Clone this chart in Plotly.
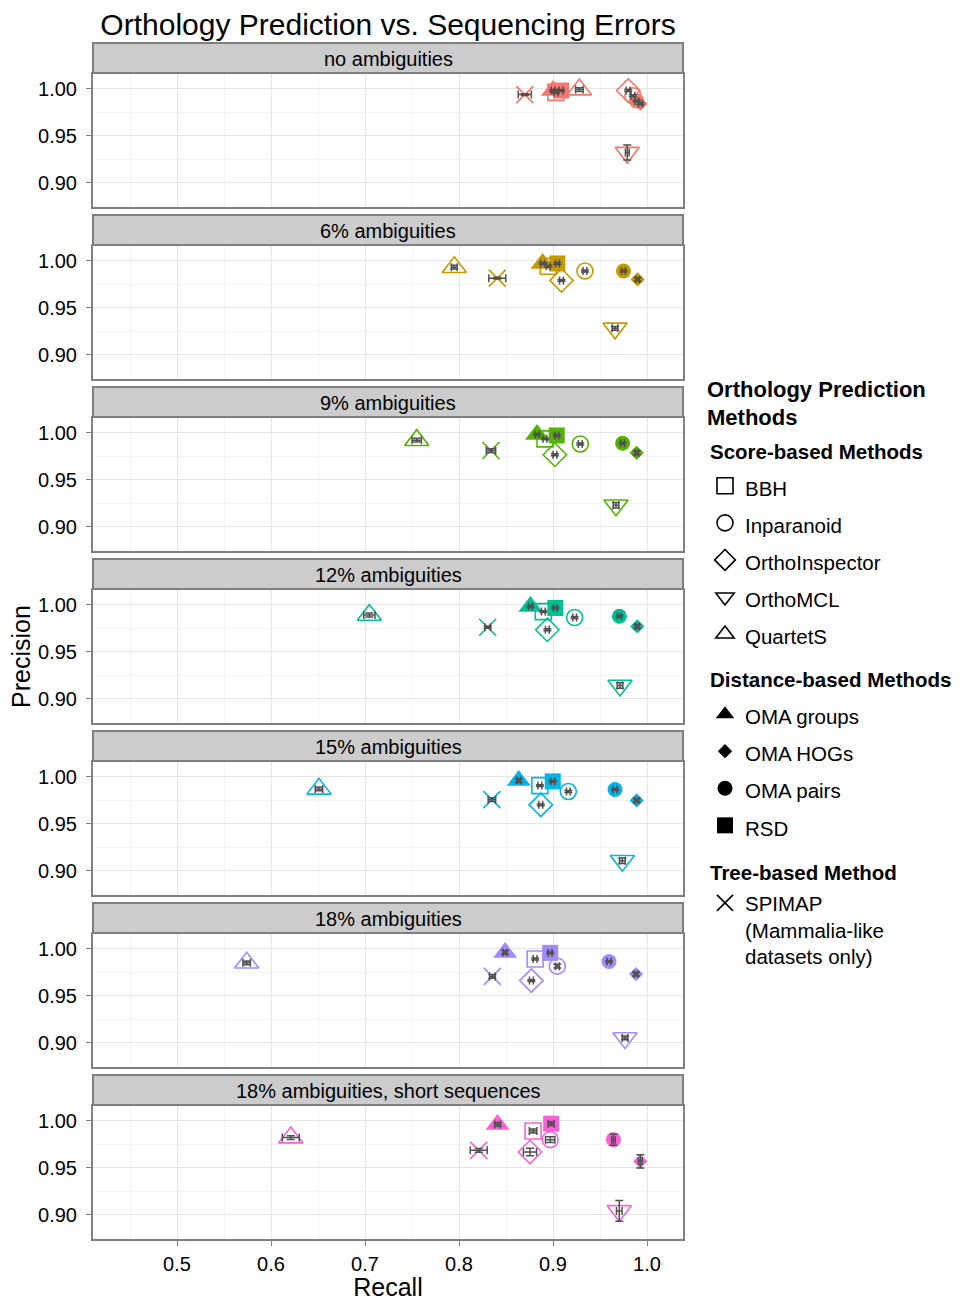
import plotly.graph_objects as go

# ---------------- data ----------------
methods = ["BBH", "Inparanoid", "OrthoInspector", "OrthoMCL", "QuartetS",
           "OMA groups", "OMA HOGs", "OMA pairs", "RSD", "SPIMAP"]
method_class = ["score", "score", "score", "score", "score",
                "distance", "distance", "distance", "distance", "tree"]

panels = ["no ambiguities", "6% ambiguities", "9% ambiguities", "12% ambiguities",
          "15% ambiguities", "18% ambiguities", "18% ambiguities, short sequences"]

panel_colors = ["#F8766D", "#C49A00", "#53B400", "#00C094", "#00B6EB", "#A58AFF", "#FB61D7"]

# recall / precision per panel, ordered as `methods`
recall_p0 = [0.903, 0.985, 0.980, 0.979, 0.928, 0.900, 0.993, 0.989, 0.9085, 0.870]
precision_p0 = [0.996, 0.9925, 0.998, 0.932, 0.999, 0.998, 0.984, 0.987, 0.998, 0.9937]

recall_p1 = [0.895, 0.934, 0.909, 0.966, 0.795, 0.889, 0.990, 0.975, 0.9046, 0.8407]
precision_p1 = [0.994, 0.989, 0.979, 0.928, 0.993, 0.997, 0.980, 0.989, 0.997, 0.9814]

recall_p2 = [0.8915, 0.929, 0.902, 0.967, 0.755, 0.883, 0.989, 0.974, 0.904, 0.834]
precision_p2 = [0.9934, 0.988, 0.9765, 0.9228, 0.992, 0.998, 0.9786, 0.9888, 0.997, 0.981]

recall_p3 = [0.8897, 0.923, 0.894, 0.9713, 0.7046, 0.876, 0.9897, 0.9706, 0.9025, 0.8305]
precision_p3 = [0.9926, 0.9863, 0.9733, 0.914, 0.989, 0.998, 0.9768, 0.9877, 0.9965, 0.976]

recall_p4 = [0.886, 0.9163, 0.887, 0.9738, 0.651, 0.8635, 0.989, 0.966, 0.8997, 0.835]
precision_p4 = [0.9905, 0.9842, 0.970, 0.9105, 0.987, 0.9958, 0.9747, 0.9863, 0.995, 0.9755]

recall_p5 = [0.881, 0.9046, 0.877, 0.9766, 0.5741, 0.849, 0.9883, 0.9596, 0.897, 0.8355]
precision_p5 = [0.989, 0.9814, 0.966, 0.905, 0.985, 0.996, 0.973, 0.9863, 0.9955, 0.9705]

recall_p6 = [0.8788, 0.897, 0.8755, 0.9705, 0.621, 0.841, 0.9929, 0.9643, 0.898, 0.821]
precision_p6 = [0.989, 0.9798, 0.9667, 0.904, 0.982, 0.996, 0.9567, 0.9798, 0.9968, 0.9684]

# standard errors (half-widths)
err_recall_p0 = [0.002, 0.002, 0.002, 0.002, 0.004, 0.002, 0.002, 0.002, 0.002, 0.007]
err_precision_p0 = [0.001, 0.001, 0.001, 0.008, 0.002, 0.001, 0.001, 0.001, 0.001, 0.001]
err_recall_p1 = [0.002, 0.002, 0.002, 0.003, 0.003, 0.002, 0.002, 0.002, 0.002, 0.009]
err_precision_p1 = [0.001, 0.001, 0.001, 0.002, 0.002, 0.001, 0.002, 0.001, 0.001, 0.001]
err_recall_p2 = [0.002, 0.002, 0.002, 0.003, 0.005, 0.002, 0.002, 0.002, 0.002, 0.005]
err_precision_p2 = [0.001, 0.001, 0.001, 0.003, 0.002, 0.001, 0.002, 0.001, 0.001, 0.002]
err_recall_p3 = [0.002, 0.002, 0.002, 0.003, 0.006, 0.002, 0.002, 0.002, 0.002, 0.003]
err_precision_p3 = [0.001, 0.001, 0.001, 0.003, 0.002, 0.001, 0.002, 0.001, 0.001, 0.001]
err_recall_p4 = [0.002, 0.002, 0.002, 0.003, 0.004, 0.002, 0.002, 0.002, 0.002, 0.004]
err_precision_p4 = [0.001, 0.001, 0.001, 0.003, 0.002, 0.002, 0.002, 0.001, 0.001, 0.002]
err_recall_p5 = [0.002, 0.002, 0.002, 0.003, 0.004, 0.002, 0.002, 0.002, 0.002, 0.003]
err_precision_p5 = [0.001, 0.002, 0.001, 0.002, 0.002, 0.002, 0.002, 0.001, 0.001, 0.002]
err_recall_p6 = [0.004, 0.005, 0.007, 0.003, 0.009, 0.003, 0.002, 0.002, 0.003, 0.009]
err_precision_p6 = [0.002, 0.003, 0.004, 0.011, 0.002, 0.002, 0.007, 0.006, 0.002, 0.002]

recall = [recall_p0, recall_p1, recall_p2, recall_p3, recall_p4, recall_p5, recall_p6]
precision = [precision_p0, precision_p1, precision_p2, precision_p3, precision_p4, precision_p5, precision_p6]
err_recall = [err_recall_p0, err_recall_p1, err_recall_p2, err_recall_p3, err_recall_p4, err_recall_p5, err_recall_p6]
err_precision = [err_precision_p0, err_precision_p1, err_precision_p2, err_precision_p3,
                 err_precision_p4, err_precision_p5, err_precision_p6]

x_tick_vals = [0.5, 0.6, 0.7, 0.8, 0.9, 1.0]
y_tick_vals = [0.90, 0.95, 1.00]

# ---------------- styling ----------------
symbol = {"BBH": "square-open", "Inparanoid": "circle-open", "OrthoInspector": "diamond-open",
          "OrthoMCL": "triangle-down-open", "QuartetS": "triangle-up-open",
          "OMA groups": "triangle-up", "OMA HOGs": "diamond", "OMA pairs": "circle",
          "RSD": "square", "SPIMAP": "x-thin-open"}
msize = {"BBH": 16, "Inparanoid": 16, "OrthoInspector": 18, "OrthoMCL": 21, "QuartetS": 21,
         "OMA groups": 21, "OMA HOGs": 11, "OMA pairs": 15, "RSD": 16, "SPIMAP": 17}
is_open = {m: symbol[m].endswith("-open") for m in methods}

FONT = "Liberation Sans, Arial, sans-serif"
W, H = 962, 1301
PX0, PX1 = 93, 683
STRIP_TOP0, STRIP_H, PLOT_TOP0, PLOT_H, STEP = 43, 30, 74, 133, 172
BORDER = "#7F7F7F"

def fy(py):
    return 1 - py / H

fig = go.Figure()
layout = dict(
    width=W, height=H, margin=dict(l=0, r=0, t=0, b=0, autoexpand=False),
    paper_bgcolor="white", plot_bgcolor="white",
    font=dict(family=FONT, color="black", size=20),
    showlegend=True,
)
shapes, annotations = [], []

for k in range(7):
    sfx = "" if k == 0 else str(k + 1)
    top = PLOT_TOP0 + STEP * k
    bot = top + PLOT_H
    xa = dict(domain=[PX0 / W, PX1 / W], range=[0.4106, 1.0383], anchor="y" + sfx,
              tickmode="array", tickvals=x_tick_vals, ticktext=[f"{v:.1f}" for v in x_tick_vals],
              showgrid=True, gridcolor="#E6E6E6", gridwidth=1, zeroline=False,
              showline=True, mirror=True, linecolor=BORDER, linewidth=2,
              minor=dict(tickmode="linear", tick0=0.45, dtick=0.05, showgrid=True,
                         gridcolor="#F4F4F4", gridwidth=1, ticks=""),
              tickfont=dict(size=20, color="black"))
    if k > 0:
        xa["matches"] = "x"
    if k < 6:
        xa.update(showticklabels=False, ticks="")
    else:
        xa.update(ticks="outside", ticklen=5, tickcolor=BORDER, tickwidth=1,
                  ticklabelstandoff=1,
                  title=dict(text="Recall", font=dict(size=25), standoff=6))
    ya = dict(domain=[fy(bot), fy(top)], range=[0.8741, 1.0156], anchor="x" + sfx,
              tickmode="array", tickvals=y_tick_vals, ticktext=[f"{v:.2f}" for v in y_tick_vals],
              showgrid=True, gridcolor="#E6E6E6", gridwidth=1, zeroline=False,
              showline=True, mirror=True, linecolor=BORDER, linewidth=2,
              minor=dict(tickmode="linear", tick0=0.875, dtick=0.025, showgrid=True,
                         gridcolor="#F4F4F4", gridwidth=1, ticks=""),
              ticks="outside", ticklen=5, tickcolor=BORDER, tickwidth=1,
              ticklabelstandoff=5, tickfont=dict(size=20, color="black"))
    if k == 3:
        ya["title"] = dict(text="Precision", font=dict(size=25), standoff=0)
    layout["xaxis" + sfx] = xa
    layout["yaxis" + sfx] = ya

    # strip
    s_top = STRIP_TOP0 + STEP * k
    shapes.append(dict(type="rect", xref="paper", yref="paper",
                       x0=PX0 / W, x1=PX1 / W, y0=fy(s_top + STRIP_H), y1=fy(s_top),
                       fillcolor="#CCCCCC", line=dict(color=BORDER, width=2), layer="above"))
    annotations.append(dict(text=panels[k], xref="paper", yref="paper",
                            x=(PX0 + PX1) / 2 / W, y=fy(s_top + STRIP_H / 2 + 1),
                            xanchor="center", yanchor="middle", showarrow=False,
                            font=dict(size=20, color="black")))

    # points
    col = panel_colors[k]
    fig.add_trace(go.Scatter(
        x=recall[k], y=precision[k], mode="markers", xaxis="x" + sfx, yaxis="y" + sfx,
        showlegend=False, text=methods, hovertemplate="%{text}<br>Recall %{x}<br>Precision %{y}<extra></extra>",
        marker=dict(symbol=[symbol[m] for m in methods], size=[msize[m] for m in methods],
                    color=col, opacity=1,
                    line=dict(color=col, width=[1.6 if is_open[m] else 0 for m in methods]))))

# error bars on top of all markers
for k in range(7):
    sfx = "" if k == 0 else str(k + 1)
    fig.add_trace(go.Scatter(
        x=recall[k], y=precision[k], mode="markers", xaxis="x" + sfx, yaxis="y" + sfx,
        showlegend=False, hoverinfo="skip",
        marker=dict(size=2, opacity=0),
        error_x=dict(type="data", array=err_recall[k], symmetric=True, color="#505050",
                     thickness=1.5, width=4),
        error_y=dict(type="data", array=err_precision[k], symmetric=True, color="#505050",
                     thickness=1.5, width=4)))

# legend entries (black keys)
group_title = {"score": "Score-based Methods", "distance": "Distance-based Methods",
               "tree": "Tree-based Method"}
for m, c in zip(methods, method_class):
    gt = dict(text=f"<span style='font-size:20.5px'><b>{group_title[c]}</b></span>",
              font=dict(size=26.2, color="black"))
    if c == "tree":
        fig.add_trace(go.Scatter(
            x=[None], y=[None], mode="markers", legend="legend2", legendgroup=c,
            legendgrouptitle=gt,
            name="SPIMAP<br>(Mammalia-like<br>datasets only)",
            marker=dict(symbol=symbol[m], size=msize[m], color="black",
                        line=dict(color="black", width=1.6))))
    else:
        fig.add_trace(go.Scatter(
            x=[None], y=[None], mode="markers", legendgroup=c,
            name=f"<span style='font-size:20.5px'>{m}</span>",
            legendgrouptitle=gt,
            marker=dict(symbol=symbol[m], size=msize[m], color="black",
                        line=dict(color="black", width=1.6 if is_open[m] else 0))))

layout["legend"] = dict(x=705 / W, y=fy(368), xanchor="left", yanchor="top",
                        font=dict(size=26.2, color="black"), tracegroupgap=6,
                        traceorder="grouped", bgcolor="rgba(0,0,0,0)", itemsizing="trace",
                        title=dict(text="<b>Orthology Prediction<br>Methods</b>",
                                   font=dict(size=22, color="black")))
layout["legend2"] = dict(x=705 / W, y=fy(846), xanchor="left", yanchor="top",
                         font=dict(size=20.5, color="black"), valign="top",
                         bgcolor="rgba(0,0,0,0)", itemsizing="trace")

layout["title"] = dict(text="Orthology Prediction vs. Sequencing Errors",
                       x=(PX0 + PX1) / 2 / W, xanchor="center", y=fy(24), yanchor="middle",
                       font=dict(size=30, color="black"))
layout["shapes"] = shapes
layout["annotations"] = annotations
fig.update_layout(**layout)

fig.write_html("out.html")
